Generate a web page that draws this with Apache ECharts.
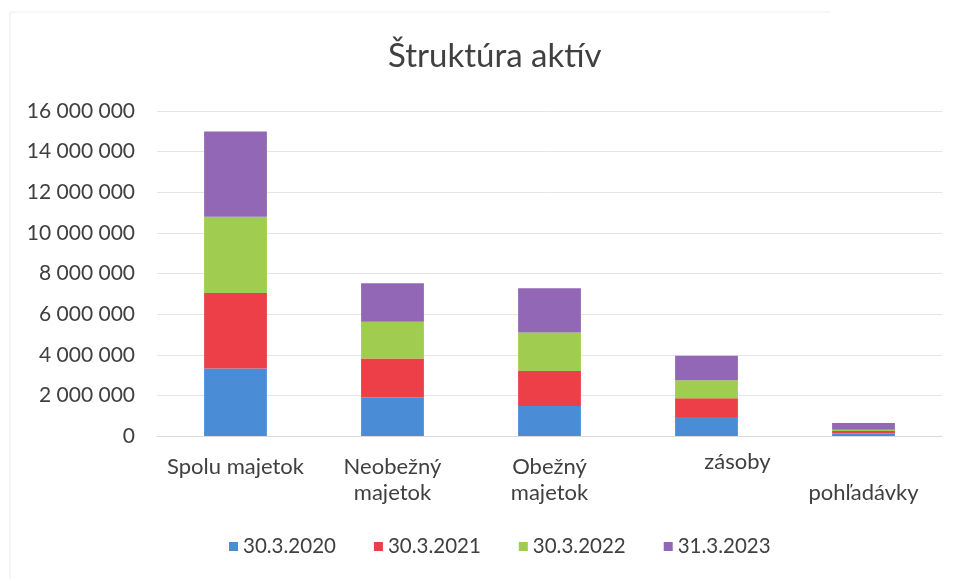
<!DOCTYPE html>
<html>
<head>
<meta charset="utf-8">
<script src="https://cdn.jsdelivr.net/npm/echarts@6/dist/echarts.min.js"></script>
<style>
  html, body { margin: 0; padding: 0; background: #fff; }
  #main { width: 963px; height: 581px; }
</style>
</head>
<body>
<div id="main"></div>
<script>
// kategórie a hodnoty odčítané z grafu
var categories = ['Spolu majetok', 'Neobežný\nmajetok', 'Obežný\nmajetok', 'zásoby', '\npohľadávky']
var seriesNames = ['30.3.2020', '30.3.2021', '30.3.2022', '31.3.2023']
var v2020 = [3320000, 1890000, 1480000, 940000, 120000]
var v2021 = [3720000, 1920000, 1720000, 920000, 130000]
var v2022 = [3760000, 1820000, 1890000, 890000, 60000]
var v2023 = [4190000, 1890000, 2190000, 1200000, 330000]
var colors = ['#4a8dd6', '#ec3f47', '#a0cc4f', '#9267b6']

var fontName = 'Lato'
var chart = echarts.init(document.getElementById('main'))

function fmt(val) {
  // medzera ako oddeľovač tisícov
  return String(val).replace(/\B(?=(\d{3})+(?!\d))/g, ' ')
}

var allValues = [v2020, v2021, v2022, v2023]
var series = seriesNames.map(function (name, i) {
  return {
    name: name,
    type: 'bar',
    stack: 'total',
    barCategoryGap: '60%',
    itemStyle: { color: colors[i] },
    data: allValues[i]
  }
})

var option = {
  backgroundColor: '#fff',
  animation: false,
  textStyle: { fontFamily: fontName },
  title: {
    text: 'Štruktúra aktív',
    left: 383,
    top: 35,
    textStyle: { fontFamily: fontName, fontSize: 33, fontWeight: 'normal', color: '#404040' }
  },
  legend: {
    data: seriesNames,
    bottom: 19,
    left: 224,
    itemWidth: 9,
    itemHeight: 9,
    itemGap: 38,
    icon: 'rect',
    textStyle: { fontFamily: fontName, fontSize: 20.5, color: '#404040' }
  },
  grid: { left: 157, right: 21, top: 111, bottom: 145 },
  xAxis: {
    type: 'category',
    data: categories.map(function (c) {
      if (c === 'zásoby') {
        return { value: c, textStyle: { padding: [0, 0, 0, 62], lineHeight: 16 } }
      }
      return c
    }),
    axisTick: { show: false },
    axisLine: { lineStyle: { color: '#d9d9d9' } },
    axisLabel: { fontFamily: fontName, fontSize: 22, lineHeight: 26, margin: 18, color: '#404040', interval: 0 }
  },
  yAxis: {
    type: 'value',
    min: 0,
    max: 16000000,
    interval: 2000000,
    axisLine: { show: false },
    axisTick: { show: false },
    splitLine: { lineStyle: { color: '#e4e4e4' } },
    axisLabel: { fontFamily: fontName, fontSize: 21, margin: 22, color: '#404040', formatter: fmt }
  },
  graphic: [
    { type: 'line', shape: { x1: 10, y1: 12, x2: 10, y2: 578 }, style: { stroke: '#e8e8e8', lineWidth: 1 } },
    { type: 'line', shape: { x1: 10, y1: 12, x2: 830, y2: 12 }, style: { stroke: '#eeeeee', lineWidth: 1 } }
  ],
  series: series
}

chart.setOption(option)
</script>
</body>
</html>
